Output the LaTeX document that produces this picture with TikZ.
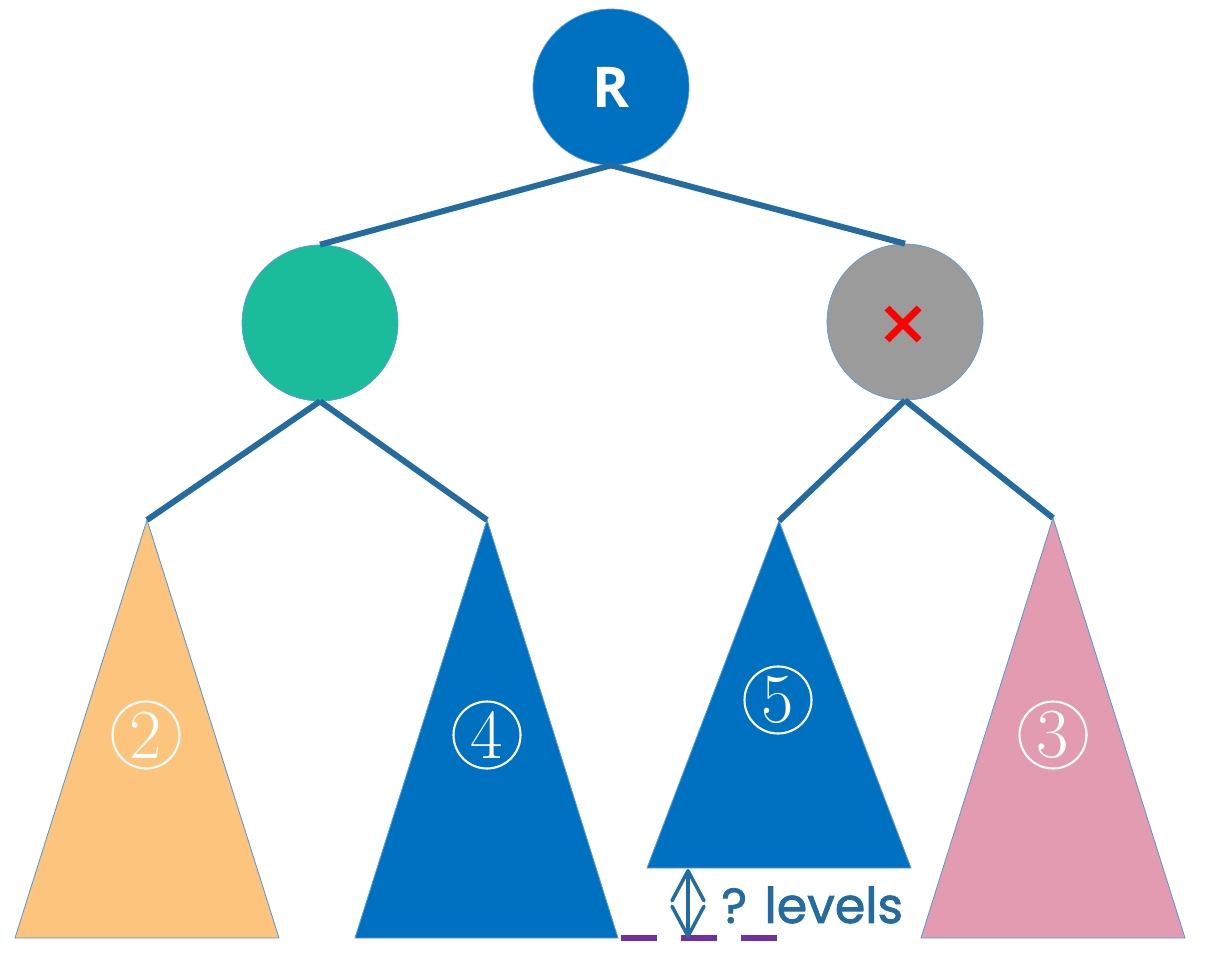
\documentclass[tikz,border=0pt]{standalone}
\usepackage{fontspec}
\usetikzlibrary{arrows.meta}
\newfontfamily\uisans{Open Sans}
\newfontfamily\handfont[FakeBold=1.6]{Poppins}
\definecolor{edgeblue}{HTML}{246BA0}
\definecolor{nodeblue}{HTML}{0070C0}
\definecolor{teal}{HTML}{1ABC9C}
\definecolor{greynode}{HTML}{9B9B9B}
\definecolor{orangetree}{HTML}{FDC47D}
\definecolor{pinktree}{HTML}{E29BB0}
\definecolor{dashpurple}{HTML}{7030A0}
\definecolor{outline}{HTML}{5B9BD5}
\tikzset{
  treenode/.style={circle, minimum size=3.12cm, inner sep=0pt, draw=outline, line width=0.4pt},
  branch/.style={draw=edgeblue, line width=3.4pt},
  subtree/.style={draw=outline, line width=0.5pt},
  tag/.style={circle, draw=white, line width=1.2pt, minimum size=1.34cm, inner sep=0pt,
    text=white, font=\fontsize{40}{40}\selectfont},
  gapdash/.style={draw=dashpurple, line width=3.4pt},
  barb/.tip={Straight Barb[length=0.6cm, width=0.64cm, round]},
}
\begin{document}
\begin{tikzpicture}[x=0.02cm, y=-0.02cm]
\useasboundingbox (0,0) rectangle (1206,966);

% tree nodes
\node[treenode, fill=nodeblue, text=white, font=\uisans\bfseries\fontsize{32}{32}\selectfont] (root) at (611,87) {R};
\node[treenode, fill=teal] (lc) at (320,323) {};
\node[treenode, fill=greynode] (rc) at (905,322) {};
\draw[red, line width=4pt] (903,324) ++(-16,-16) -- ++(32,32);
\draw[red, line width=4pt] (903,324) ++(16,-16) -- ++(-32,32);

% subtree apexes and base corners
\coordinate (a2) at (147,520);
\coordinate (a4) at (487,520);
\coordinate (a5) at (779,521);
\coordinate (a3) at (1053,518);

\filldraw[subtree, fill=orangetree] (a2) -- (15,938) -- (279,938) -- cycle;
\filldraw[subtree, fill=nodeblue] (a4) -- (355,938) -- (618,938) -- cycle;
\filldraw[subtree, fill=nodeblue] (a5) -- (647,868) -- (911,868) -- cycle;
\filldraw[subtree, fill=pinktree] (a3) -- (921,938) -- (1185,938) -- cycle;

% branches
\draw[branch] (root.south) -- (lc.north);
\draw[branch] (root.south) -- (rc.north);
\draw[branch] (lc.south) -- (a2);
\draw[branch] (lc.south) -- (a4);
\draw[branch] (rc.south) -- (a5);
\draw[branch] (rc.south) -- (a3);

% subtree labels
\node[tag] (t2) at (146,735) {2};
\node[tag] (t4) at (487,735) {4};
\node[tag] (t5) at (778,700) {5};
\node[tag] (t3) at (1053,735) {3};

% missing levels marker
\draw[gapdash] (621,938) -- (657,938);
\draw[gapdash] (681,938) -- (717,938);
\draw[gapdash] (741,938) -- (777,938);
\coordinate (gtop) at (688,869);
\coordinate (gbot) at (688,938);
\draw[draw=edgeblue, line width=2pt, barb-barb] (gtop) -- (gbot);
\node[anchor=west, text=edgeblue, font=\handfont\fontsize{28}{28}\selectfont, inner sep=0pt] (lv) at (721,905) {? levels};
\end{tikzpicture}
\end{document}
